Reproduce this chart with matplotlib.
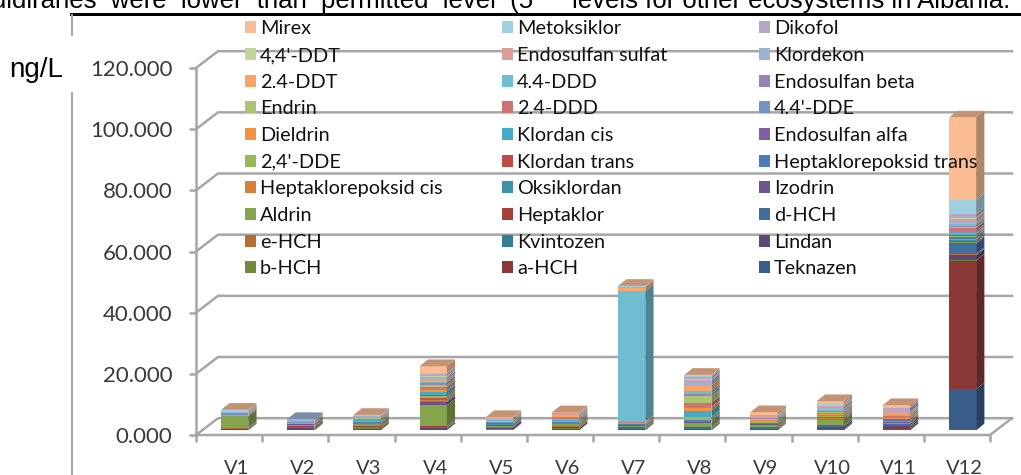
import matplotlib
matplotlib.use("Agg")
import matplotlib.pyplot as plt
import numpy as np
from matplotlib.patches import Patch, Polygon, Rectangle

categories = ["V1", "V2", "V3", "V4", "V5", "V6", "V7", "V8", "V9", "V10", "V11", "V12"]
y_ticks = [0, 20, 40, 60, 80, 100, 120]

# stacking order, bottom to top
series_names = ["Teknazen", "a-HCH", "b-HCH", "Lindan", "Kvintozen", "e-HCH",
                "d-HCH", "Heptaklor", "Aldrin", "Izodrin", "Oksiklordan", "Heptaklorepoksid cis",
                "Heptaklorepoksid trans", "Klordan trans", "2,4'-DDE", "Endosulfan alfa", "Klordan cis", "Dieldrin",
                "4.4'-DDE", "2.4-DDD", "Endrin", "Endosulfan beta", "4.4-DDD", "2.4-DDT",
                "Klordekon", "Endosulfan sulfat", "4,4'-DDT", "Dikofol", "Metoksiklor", "Mirex"]
series_colors = ["#385d8a", "#8c3836", "#71893f", "#5c4776", "#357d91", "#b66d31",
                 "#426da1", "#a5403d", "#84a54e", "#6e548d", "#3e92aa", "#d9813a",
                 "#4a7ebb", "#be4b48", "#98b954", "#7d60a0", "#46aac5", "#f69240",
                 "#7394c5", "#cd7371", "#abc573", "#9983b5", "#6fbdd1", "#f9a566",
                 "#9db3d6", "#dc9e9c", "#c1d49b", "#b5a7c9", "#9fd0df", "#fbbc94"]

v1 = [.1, .2, .1, .1, .05, .1, .1, .2, 3.6, .1, .05, .05, .05, .05, .1, .1, .05, .05, .1, .1, .1, .1, .1, .1, .2, .15, .1, .2, .2, .15]
v2 = [.05, .3, .2, .4, .05, .1, .1, .1, .4, .3, .05, .05, .1, .05, .1, .1, .05, .05, .1, .1, .05, .1, .1, .2, .5, 0, 0, 0, 0, 0]
v3 = [.1, .4, .2, .1, .05, .3, .1, .2, .7, .1, .1, .2, .1, .1, .2, .1, .2, .2, .1, .2, .2, .1, .2, .2, .1, .1, .1, .1, .1, .1]
v4 = [.1, .4, .1, .1, .1, .1, .2, .2, 6.9, 1.0, .3, .5, .3, .3, .7, .4, 1.0, .4, .6, .5, .7, .7, .3, .6, .6, .4, .3, .5, .4, 2.3]
v5 = [.1, .1, .1, .6, .05, .1, .1, .1, .3, .3, .1, .05, .1, .05, .1, .1, .1, .1, .1, .1, .3, .1, .2, .4, .1, .1, .1, .1, .1, .1]
v6 = [.1, .5, .2, .2, .1, .2, .1, .2, .4, .2, .1, .2, .1, .2, .3, .1, .2, .2, .1, .2, .3, .1, .2, .4, .2, .2, .1, .2, .1, .2]
v7 = [.2, .2, .1, .1, .1, .1, .1, .2, .5, .1, .1, .1, .1, .1, .2, .05, .05, .1, .05, .05, .1, .1, 42.8, 1.1, .1, .1, .05, .1, .1, .1]
v8 = [.1, .3, .1, .1, .05, .2, .1, .1, 1.5, .3, .1, .1, .3, .1, .9, .1, 2.0, .9, .3, 1.4, 2.2, .7, 1.1, 1.6, 1.6, .3, .3, .6, .3, .4]
v9 = [.1, .2, .2, .1, .05, .2, .2, .2, .5, .2, .1, .2, .1, .2, .4, .1, .1, .1, .2, .1, .3, .1, .1, .1, .3, .2, .1, .2, .2, .8]
v10 = [.3, .1, .1, .6, .05, .1, .4, .1, 1.6, .2, .1, .3, .1, .2, .4, .2, .2, .2, .3, .3, .2, .3, .2, .4, .7, .3, .2, .3, .4, .7]
v11 = [.5, .2, .1, .5, .05, .2, .5, .2, .2, .3, .1, .3, .1, .1, .2, .1, .1, .4, .1, .3, .1, .1, .4, .3, .2, .3, .1, 1.2, .3, .7]
v12 = [13.5, 42, .1, 1.6, .2, .3, 3.3, .3, .3, .4, .4, .3, .4, .3, .3, .3, .3, .3, .5, 1.1, .3, .5, .5, .4, .4, .9, .3, 1.2, 4.6, 27]

values = np.array([v1, v2, v3, v4, v5, v6, v7, v8, v9, v10, v11, v12])

W, H = 1021, 475
GREY = "#a6a6a6"
TEXT = "#3a3a3a"


def darker(col, f):
    return tuple(c * f for c in matplotlib.colors.to_rgb(col))


fig = plt.figure(figsize=(W / 100, H / 100), dpi=100)
ax = fig.add_axes([196 / W, (H - 435) / H, (990 - 196) / W, 367 / H])
ax.set_xlim(0, 12)
ax.set_ylim(0, 120)
ax.patch.set_visible(False)
for s in ax.spines.values():
    s.set_visible(False)

# depth of the fake 3d box and of the bars, in data units
wall_dx, wall_dy = 0.3325, 5.5
bar_dx, bar_dy = 0.125, 2.2
lift = 1.5
bar_w = 0.41
bar_c = np.arange(12) + 0.585

# walls
for t in y_ticks:
    ax.plot([0, wall_dx, 12 + wall_dx], [t, t + wall_dy, t + wall_dy], color=GREY, lw=1.8,
            clip_on=False, zorder=1, solid_joinstyle="miter")
ax.plot([0, 0], [0, 120], color=GREY, lw=1.8, clip_on=False, zorder=1)
ax.plot([0, 12, 12 + wall_dx], [0, 0, wall_dy], color=GREY, lw=1.8, clip_on=False, zorder=1)

# stacked bars with side and top faces
bottoms = np.full(12, lift)
for k, name in enumerate(series_names):
    col = series_colors[k]
    ax.bar(bar_c, values[:, k], bar_w, bottom=bottoms, color=col, linewidth=0, zorder=3)
    for i in range(12):
        x1 = bar_c[i] + bar_w / 2
        y0, y1 = bottoms[i], bottoms[i] + values[i, k]
        ax.add_patch(Polygon([(x1, y0), (x1 + bar_dx, y0 + bar_dy), (x1 + bar_dx, y1 + bar_dy), (x1, y1)],
                             closed=True, fc=darker(col, 0.7), lw=0, zorder=3))
    bottoms = bottoms + values[:, k]

# top face takes the colour of the highest series that is there
for i in range(12):
    x0 = bar_c[i] - bar_w / 2
    x1 = x0 + bar_w
    top_k = np.nonzero(values[i])[0][-1]
    ax.add_patch(Polygon([(x0, bottoms[i]), (x1, bottoms[i]), (x1 + bar_dx, bottoms[i] + bar_dy),
                          (x0 + bar_dx, bottoms[i] + bar_dy)], closed=True,
                         fc=darker(series_colors[top_k], 0.78), lw=0, zorder=3))

# axis ticks and labels
ax.set_yticks(y_ticks)
ax.set_yticklabels(["%.3f" % t for t in y_ticks], fontfamily="Lato", fontsize=16, color=TEXT)
ax.tick_params(axis="y", length=5, width=1.8, color=GREY, pad=12)
ax.set_xticks(np.arange(13))
ax.set_xticklabels([])
ax.tick_params(axis="x", which="major", length=5, width=1.8, color=GREY)
ax.set_xticks(bar_c + 0.03, minor=True)
ax.set_xticklabels(categories, minor=True, fontfamily="Lato", fontsize=14.5, color=TEXT)
ax.tick_params(axis="x", which="minor", length=0, pad=18)

# legend, three columns that run downward from the top of the stack
rows = 10
for c, x in enumerate([245, 502, 759]):
    idx = [len(series_names) - 1 - c - 3 * r for r in range(rows)]
    handles = [Patch(fc=series_colors[j], ec="none") for j in idx]
    labels = [series_names[j] for j in idx]
    fig.legend(handles, labels, loc="upper left", bbox_to_anchor=(x / W, (H - 20.5) / H),
               bbox_transform=fig.transFigure, frameon=False, borderpad=0, borderaxespad=0,
               handlelength=0.55, handleheight=0.55, handletextpad=0.2, labelspacing=0.485,
               prop={"family": "Lato", "size": 14.3}, labelcolor="#111111")

# page furniture around the pasted chart
fig.add_artist(Rectangle((70 / W, (H - 15.5) / H), (W - 70) / W, 3 / H, transform=fig.transFigure, fc="black", lw=0))
fig.add_artist(plt.Line2D([71.5 / W, 71.5 / W], [(H - 15) / H, (H - 35) / H], color=GREY, lw=1.5))
fig.add_artist(plt.Line2D([71.5 / W, 71.5 / W], [(H - 93) / H, 0], color=GREY, lw=1.5))
fig.text(9 / W, (H - 70) / H, "ng/L", family="Liberation Sans", fontsize=20, va="center", ha="left", color="black")
fig.text(-8 / W, (H - 8) / H, "uldiranes  were  lower  than  permitted  level  (5",
         family="Liberation Sans", fontsize=18.5, va="baseline", ha="left", color="black")
fig.text(572 / W, (H - 8) / H, "levels for other ecosystems in Albania.",
         family="Liberation Sans", fontsize=18.5, va="baseline", ha="left", color="black")

fig.savefig("out.png", dpi=100)
